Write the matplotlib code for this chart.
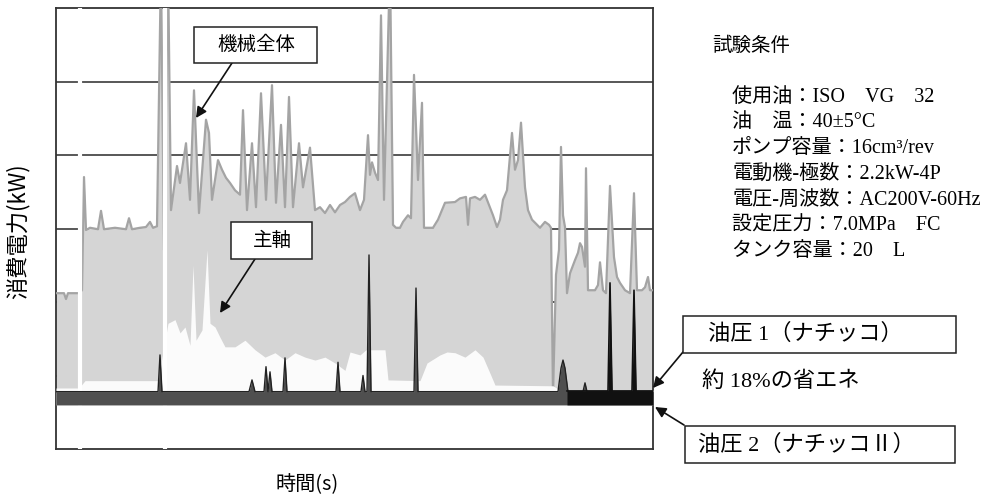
import matplotlib
matplotlib.use("Agg")
import matplotlib.pyplot as plt
from matplotlib.patches import Rectangle

W, H = 985, 497

# time axis (arbitrary units, figure spans 0-597)
total_t = [0, 8, 10, 12, 23, 26, 28, 30, 34, 42, 45, 48, 59, 70, 73, 76, 84, 90, 94, 97,
           101, 105, 108, 112, 115, 121, 124, 130, 134, 138, 143, 150, 153, 156, 162, 166,
           170, 174, 179, 184, 187, 191, 196, 200, 205, 210, 216, 220, 225, 229, 233, 237,
           243, 247, 254, 259, 264, 269, 274, 279, 284, 289, 294, 299, 304, 308, 312, 314,
           316, 319, 322, 325, 328, 334, 337, 340, 344, 347, 352, 355, 358, 362, 366, 368,
           377, 382, 389, 399, 404, 410, 412, 414, 419, 424, 429, 433, 437, 441, 444, 447,
           451, 456, 459, 462, 465, 469, 472, 476, 481, 484, 489, 493, 495, 497, 500, 503,
           505, 507, 509, 511, 514, 519, 522, 524, 526, 529, 530, 532, 539, 542, 544, 547,
           550, 554, 558, 561, 564, 569, 574, 578, 581, 586, 589, 592, 594, 597]
total_kw = [2.12, 2.12, 2.04, 2.12, 2.12, 2.16, 3.70, 2.98, 3.01, 2.99, 3.24, 2.99, 3.01,
            2.99, 3.14, 2.99, 3.01, 3.02, 3.09, 3.01, 3.03, 6.6, 2.71, 6.6, 3.25, 3.85, 3.62,
            4.16, 3.39, 4.88, 3.21, 4.48, 4.30, 3.39, 3.93, 3.80, 3.69, 3.62, 3.52, 3.46,
            4.61, 3.25, 4.16, 3.29, 4.84, 3.39, 4.95, 3.35, 4.41, 3.29, 4.79, 3.29, 4.16,
            3.56, 4.10, 3.25, 3.29, 3.21, 3.32, 3.22, 3.32, 3.36, 3.43, 3.48, 3.25, 3.39,
            4.27, 3.73, 3.90, 3.76, 3.66, 5.90, 3.39, 6.6, 3.05, 3.01, 3.01, 3.09, 3.18,
            3.14, 5.09, 3.66, 4.71, 3.01, 3.01, 3.12, 3.35, 3.36, 3.41, 3.43, 3.05, 3.41,
            3.43, 3.39, 3.46, 3.32, 3.18, 3.02, 3.12, 3.39, 3.52, 4.30, 3.80, 3.93, 4.44,
            3.56, 3.25, 3.12, 3.05, 3.01, 3.09, 3.05, 3.01, 0.73, 2.37, 2.71, 4.11, 3.18,
            3.02, 2.12, 2.39, 2.57, 2.67, 2.80, 2.75, 2.48, 3.82, 2.16, 2.16, 2.23, 2.54,
            2.16, 2.12, 3.58, 2.61, 2.34, 2.26, 2.16, 2.12, 3.48, 2.16, 2.16, 2.20, 2.34,
            2.16, 2.16]

spindle_t = [0, 23, 29, 102, 112, 119, 124, 129, 134, 137, 140, 146, 151, 154, 159, 164,
             169, 179, 189, 199, 209, 219, 229, 239, 249, 259, 269, 279, 289, 294, 304, 310,
             329, 332, 364, 371, 384, 391, 399, 409, 419, 427, 434, 439, 497, 504, 597]
spindle_kw = [0.83, 0.83, 0.93, 0.93, 1.71, 1.76, 1.58, 1.66, 1.41, 2.50, 1.48, 1.62, 2.71,
              1.71, 1.66, 1.52, 1.39, 1.39, 1.48, 1.35, 1.25, 1.31, 1.21, 1.31, 1.25, 1.21,
              1.25, 1.17, 1.07, 1.32, 1.28, 1.35, 1.35, 0.94, 0.93, 1.17, 1.28, 1.32, 1.31,
              1.25, 1.35, 1.25, 1.03, 0.87, 0.86, 0.80, 0.80]

hyd1_t = [0, 102, 104, 106, 193, 196, 199, 208, 210, 212, 214, 216, 227, 229, 231, 280,
          282, 284, 305, 307, 309, 311, 313, 315, 358, 360, 362, 502, 505, 507, 509, 512,
          527, 529, 531, 597]
hyd1_kw = [0.78, 0.78, 1.28, 0.78, 0.78, 0.94, 0.78, 0.78, 1.12, 0.78, 1.05, 0.78, 0.78,
           1.24, 0.78, 0.78, 1.18, 0.78, 0.78, 1.00, 0.78, 0.78, 2.64, 0.78, 0.78, 2.19,
           0.78, 0.78, 1.10, 1.21, 1.10, 0.78, 0.78, 0.90, 0.78, 0.78]

hyd2_t = [511, 552, 554, 556, 576, 578, 580, 597]
hyd2_kw = [0.79, 0.79, 2.26, 0.79, 0.79, 2.16, 0.79, 0.79]

base = 0.6
conditions = ["使用油：ISO　VG　32", "油　温：40±5°C", "ポンプ容量：16cm³/rev",
              "電動機-極数：2.2kW-4P", "電圧-周波数：AC200V-60Hz",
              "設定圧力：7.0MPa　FC", "タンク容量：20　L"]

jp = ["Noto Sans CJK JP", "DejaVu Sans"]
mixed = ["Liberation Serif", "Noto Sans CJK JP", "DejaVu Sans"]

fig = plt.figure(figsize=(W / 100, H / 100), dpi=100)
ax = fig.add_axes([56 / W, 48 / H, 597 / W, 441 / H])
ax.set_xlim(0, 597)
ax.set_ylim(0, 6)
ax.set_yticks([1, 2, 3, 4, 5])
ax.set_xticks([])
ax.tick_params(length=0, labelleft=False)
ax.grid(axis="y", color="#2a2a2a", lw=1.1)
ax.set_axisbelow(True)
for s in ax.spines.values():
    s.set_color("#333333")
    s.set_linewidth(1.3)

# machine total
ax.fill_between(total_t, base, total_kw, color="#d5d5d5", lw=0, zorder=2)
ax.plot(total_t, total_kw, color="#a4a4a4", lw=1.6, zorder=3)
# spindle
ax.fill_between(spindle_t, base, spindle_kw, color="#fbfbfb", lw=0, zorder=4)
# light vertical streaks
for xv in [24, 108.5]:
    ax.axvline(xv, color="white", lw=3, zorder=5)
# hydraulic 1 / 2
ax.fill_between(hyd1_t, base, hyd1_kw, color="#4f4f4f", lw=0, zorder=6)
ax.plot(hyd1_t, hyd1_kw, color="#222222", lw=1.0, zorder=6)
ax.fill_between(hyd2_t, base, hyd2_kw, color="#111111", lw=0, zorder=7)
ax.plot(hyd2_t, hyd2_kw, color="#111111", lw=1.2, zorder=7)


def fp(x, y):
    return (x, H - y)


def box(x0, y0, x1, y1):
    fig.add_artist(Rectangle(fp(x0, y1), x1 - x0, y1 - y0, transform=None,
                             fill=True, fc="white", ec="#222222", lw=1.1, zorder=10))


def arrow(x0, y0, x1, y1):
    ax.annotate("", xy=fp(x1, y1), xycoords="figure pixels", xytext=fp(x0, y0),
                textcoords="figure pixels",
                arrowprops=dict(arrowstyle="-|>", color="#111111", lw=1.2,
                                mutation_scale=16, shrinkA=0, shrinkB=0),
                zorder=11, annotation_clip=False)


box(194, 27, 317, 63)
fig.text(256 / W, 1 - 45 / H, "機械全体", family=jp, fontsize=14,
         ha="center", va="center", zorder=12)
arrow(232, 63, 196, 118)

box(231, 222, 312, 259)
fig.text(272 / W, 1 - 240 / H, "主軸", family=jp, fontsize=14,
         ha="center", va="center", zorder=12)
arrow(255, 259, 220, 313)

box(683, 316, 956, 353)
fig.text(708 / W, 1 - 334 / H, "油圧 1（ナチッコ）", family=mixed, fontsize=16,
         ha="left", va="center", zorder=12)
arrow(683, 352, 653, 388)

fig.text(702 / W, 1 - 382 / H, "約 18%の省エネ", family=mixed, fontsize=16,
         ha="left", va="center")

box(685, 426, 955, 463)
fig.text(698 / W, 1 - 445 / H, "油圧 2（ナチッコⅡ）", family=mixed, fontsize=16,
         ha="left", va="center", zorder=12)
arrow(684, 425, 655, 407)

fig.text(712 / W, 1 - 45 / H, "試験条件", family=jp, fontsize=14,
         ha="left", va="center")
for i, line in enumerate(conditions):
    fig.text(732 / W, 1 - (97 + i * 25.8) / H, line, family=mixed, fontsize=14.5,
             ha="left", va="center")

fig.text(18 / W, 1 - 231 / H, "消費電力(kW)", family=jp, fontsize=16,
         rotation=90, ha="center", va="center")
fig.text(307 / W, 1 - 485 / H, "時間(s)", family=jp, fontsize=14.5,
         ha="center", va="center")

fig.savefig("out.png", dpi=100)
